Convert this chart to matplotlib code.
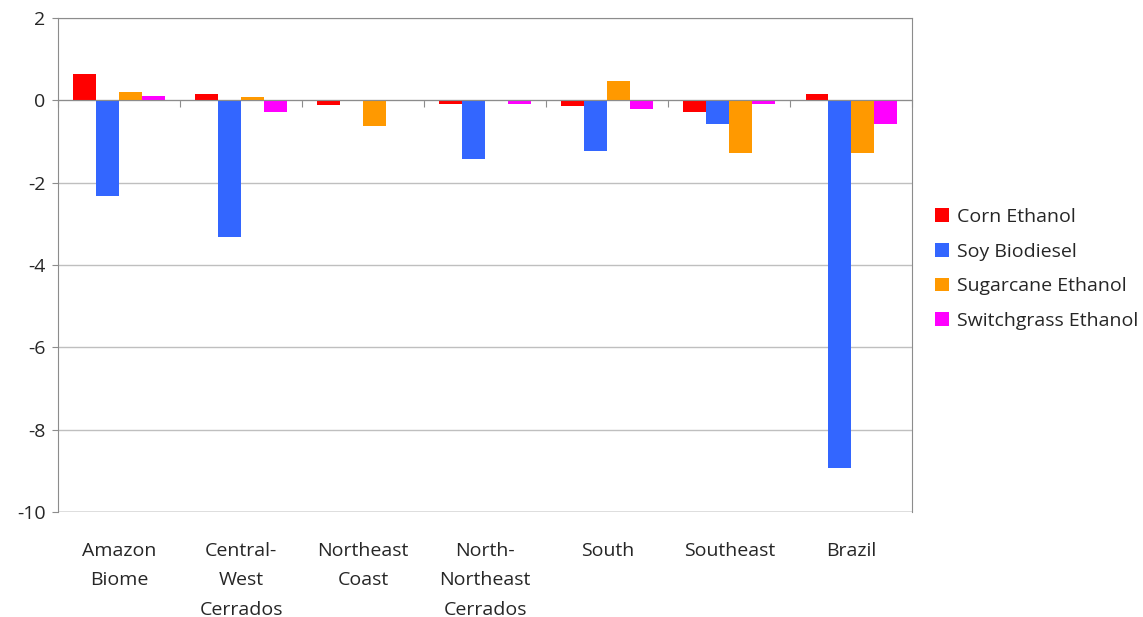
import matplotlib
matplotlib.use("Agg")
import matplotlib.pyplot as plt
import numpy as np

categories = ["Amazon\nBiome", "Central-\nWest\nCerrados", "Northeast\nCoast",
              "North-\nNortheast\nCerrados", "South", "Southeast", "Brazil"]
series_names = ["Corn Ethanol", "Soy Biodiesel", "Sugarcane Ethanol", "Switchgrass Ethanol"]
corn = [0.63, 0.15, -0.12, -0.08, -0.15, -0.28, 0.15]
soy = [-2.33, -3.33, -0.03, -1.43, -1.24, -0.57, -8.93]
sugarcane = [0.19, 0.09, -0.62, -0.03, 0.46, -1.29, -1.28]
switchgrass = [0.11, -0.28, -0.02, -0.08, -0.21, -0.08, -0.58]
colors = ["#ff0000", "#3366ff", "#ff9900", "#ff00ff"]
yticks = [2, 0, -2, -4, -6, -8, -10]

plt.rcParams['font.family'] = ['Open Sans', 'DejaVu Sans']
txt_color = "#262626"

fig = plt.figure(figsize=(11.43, 6.17), dpi=100)
ax = fig.add_axes([0.0507, 0.170, 0.7475, 0.801])

x = np.arange(len(categories))
n = 4
group = 0.75
w = group / n
for i, (vals, name, c) in enumerate(zip([corn, soy, sugarcane, switchgrass], series_names, colors)):
    ax.bar(x - group / 2 + w * (i + 0.5), vals, width=w, color=c, label=name, zorder=3)

ax.set_xlim(-0.5, len(categories) - 0.5)
ax.set_ylim(-10, 2)
ax.set_yticks(yticks)
ax.set_yticklabels([str(t) for t in yticks], fontsize=14, color=txt_color)
ax.yaxis.grid(True, color="#bfbfbf", linewidth=1, zorder=0)
ax.tick_params(axis='y', length=4, color="#8c8c8c", direction='out', pad=5)

for s in ['top', 'right', 'left']:
    ax.spines[s].set_color("#8c8c8c")
ax.spines['bottom'].set_position(('data', 0))
ax.spines['bottom'].set_color("#8c8c8c")
ax.spines['bottom'].set_zorder(4)
ax.set_xticks(np.arange(len(categories) + 1) - 0.5)
ax.set_xticklabels([])
ax.tick_params(axis='x', length=5, color="#8c8c8c", direction='out')

sec = ax.secondary_xaxis('bottom')
sec.spines['bottom'].set_visible(False)
sec.set_xticks(x)
sec.set_xticklabels(categories, fontsize=14, linespacing=1.82, va='top', color=txt_color)
sec.tick_params(length=0, pad=21.5)
ax.axhline(-10, color="#8c8c8c", linewidth=1, zorder=2)

leg = fig.legend(loc='center left', bbox_to_anchor=(0.818, 0.564), frameon=False,
                 fontsize=14, handlelength=0.7, handleheight=0.7, handletextpad=0.45,
                 labelspacing=0.86, borderpad=0, borderaxespad=0)
for t in leg.get_texts():
    t.set_color(txt_color)

fig.savefig("out.png", dpi=100)
